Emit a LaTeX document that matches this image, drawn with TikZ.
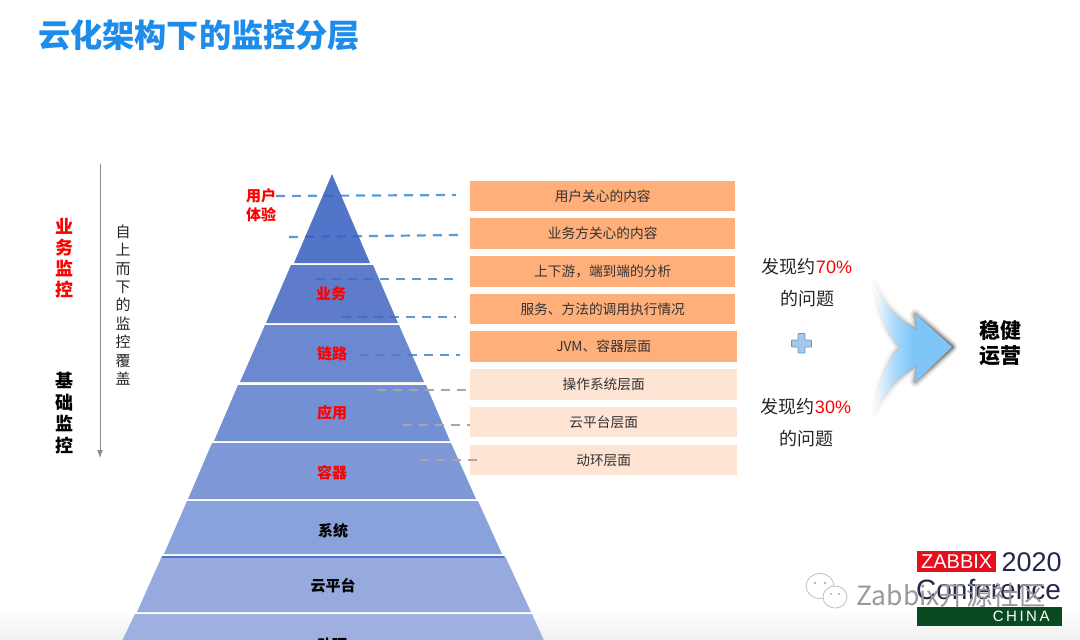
\documentclass[tikz,border=0pt]{standalone}
\usepackage{fontspec}
\setmainfont{Noto Sans CJK SC}
\newfontfamily\latinf{Liberation Sans}
\usetikzlibrary{fadings,shadings,arrows.meta}
\definecolor{titleblue}{HTML}{1E8CEB}
\definecolor{dashblue}{HTML}{5B9BD5}
\definecolor{dashgray}{HTML}{A6A6A6}
\definecolor{boxdark}{HTML}{FFAF7A}
\definecolor{boxlight}{HTML}{FDE4D3}
\definecolor{redlab}{HTML}{FF0000}
\definecolor{logored}{HTML}{E60F1E}
\definecolor{logogreen}{HTML}{0A4A22}
\definecolor{logonavy}{HTML}{23284F}
\definecolor{arrowblue}{HTML}{7EC6F8}
\tikzfading[name=swoosh,left color=transparent!100,middle color=transparent!70,right color=transparent!0]
\pgfdeclarehorizontalshading{swooshsh}{100bp}{color(0bp)=(white); color(25bp)=(white); color(32bp)=(arrowblue!35!white); color(40bp)=(arrowblue!72!white); color(50bp)=(arrowblue); color(100bp)=(arrowblue)}
\tikzset{
  x=1pt,y=-1pt,
  layer/.style={fill opacity=.85},
  boxd/.style={fill=boxdark,draw=none,minimum width=265pt,minimum height=30.5pt,inner sep=0pt,text=black!80,font=\fontsize{13.7}{16}\selectfont},
  boxl/.style={boxd,fill=boxlight,minimum width=267pt},
  blued/.style={draw=dashblue,line width=2.2pt,dash pattern=on 9pt off 7pt},
  grayd/.style={draw=dashgray,line width=2.2pt,dash pattern=on 9pt off 7pt},
  pyrlab/.style={inner sep=0pt,font=\fontsize{15}{18}\selectfont\bfseries},
  side/.style={inner sep=0pt,align=center,text=black!85,font=\fontsize{18}{32}\selectfont},
}
\begin{document}
\begin{tikzpicture}
\useasboundingbox (0,0) rectangle (1080,640);
\begin{scope}
\clip (0,0) rectangle (1080,640);
\fill[white] (0,0) rectangle (1080,640);
\shade[top color=white,bottom color=black!6] (0,610) rectangle (1080,640);

\node[anchor=west,inner sep=0pt,text=titleblue,font=\fontsize{32.2}{36}\selectfont\bfseries] (title) at (38,35) {云化架构下的监控分层};

% side column
\coordinate (arrTop) at (100,164);
\coordinate (arrEnd) at (100,458);
\draw[draw=black!45,line width=1pt,-{Latex[length=8pt,width=6pt]}] (arrTop) -- (arrEnd);
\node[inner sep=0pt,align=center,text=redlab,font=\fontsize{18}{21}\selectfont\bfseries] (biz) at (64,258) {业\\务\\监\\控};
\node[inner sep=0pt,align=center,text=black,font=\fontsize{18}{21.5}\selectfont\bfseries] (base) at (64,413) {基\\础\\监\\控};
\node[inner sep=0pt,align=center,text=black!85,font=\fontsize{15}{18.4}\selectfont] (topdown) at (123,305) {自\\上\\而\\下\\的\\监\\控\\覆\\盖};

% dashed leaders, under the translucent pyramid
\coordinate (a1) at (276,196); \coordinate (b1) at (456,195);
\coordinate (a2) at (289,237); \coordinate (b2) at (458,235);
\coordinate (a3) at (316,279); \coordinate (b3) at (455,279);
\coordinate (a4) at (342,317); \coordinate (b4) at (456,317);
\coordinate (a5) at (360,355); \coordinate (b5) at (460,355);
\coordinate (a6) at (377,390); \coordinate (b6) at (466,390);
\coordinate (a7) at (403,425); \coordinate (b7) at (470,425);
\coordinate (a8) at (420,460); \coordinate (b8) at (478,460);
\draw[blued] (a1) -- (b1);
\draw[blued] (a2) -- (b2);
\draw[blued] (a3) -- (b3);
\draw[blued] (a4) -- (b4);
\draw[blued] (a5) -- (b5);

% pyramid
\definecolor{p1}{RGB}{52,93,192}
\definecolor{p2}{RGB}{67,102,194}
\definecolor{p3}{RGB}{82,116,201}
\definecolor{p4}{RGB}{92,125,205}
\definecolor{p5}{RGB}{105,135,210}
\definecolor{p6}{RGB}{117,146,214}
\definecolor{p7}{RGB}{132,156,219}
\definecolor{p8}{RGB}{144,165,220}
\fill[layer,p1] (332,174) -- (370,263) -- (294,263) -- cycle;
\fill[layer,p2] (291,265) -- (373,265) -- (398,323) -- (266,323) -- cycle;
\fill[layer,p3] (265,325) -- (399,325) -- (424,382) -- (240,382) -- cycle;
\fill[layer,p4] (238,385) -- (426,385) -- (450,441) -- (214,441) -- cycle;
\fill[layer,p5] (212,443) -- (451,443) -- (476,499) -- (188,499) -- cycle;
\fill[layer,p6] (187,501) -- (478,501) -- (502,554) -- (164,554) -- cycle;
\fill[layer,p7] (162,556) -- (505,556) -- (531,612) -- (137,612) -- cycle;
\fill[layer,p8] (135,614) -- (532,614) -- (546,645) -- (120,645) -- cycle;
\fill[p3] (162,556) rectangle (504,558);

% boxes
\node[boxd,anchor=west] (r1) at (470,196) {用户关心的内容};
\node[boxd,anchor=west] (r2) at (470,233.5) {业务方关心的内容};
\node[boxd,anchor=west] (r3) at (470,271.5) {上下游，端到端的分析};
\node[boxd,anchor=west] (r4) at (470,309) {服务、方法的调用执行情况};
\node[boxd,anchor=west,minimum width=267pt] (r5) at (470,346.5) {JVM、容器层面};
\node[boxl,anchor=west] (r6) at (470,384.5) {操作系统层面};
\node[boxl,anchor=west] (r7) at (470,422) {云平台层面};
\node[boxl,anchor=west] (r8) at (470,460) {动环层面};

\draw[grayd] (a6) -- (b6);
\draw[grayd] (a7) -- (b7);
\draw[grayd] (a8) -- (b8);

% pyramid labels
\node[pyrlab,text=redlab,align=center,font=\fontsize{15}{19}\selectfont\bfseries] (l0) at (261,205.5) {用户\\体验};
\node[pyrlab,text=redlab] (l1) at (331,294) {业务};
\node[pyrlab,text=redlab] (l2) at (332,354) {链路};
\node[pyrlab,text=redlab] (l3) at (332,413) {应用};
\node[pyrlab,text=redlab] (l4) at (332,473) {容器};
\node[pyrlab] (l5) at (333,531) {系统};
\node[pyrlab] (l6) at (333,586) {云平台};
\node[pyrlab] (l7) at (332,645) {动环};

% right hand text
\node[side] (f1) at (807,283) {发现约\textcolor{redlab}{\latinf 70\%}\\的问题};
\node[side] (f2) at (806,422.5) {发现约\textcolor{redlab}{\latinf 30\%}\\的问题};
\node[inner sep=0pt,align=center,font=\fontsize{21}{25}\selectfont\bfseries] (ops) at (1000,343) {稳健\\运营};

% plus sign
\draw[draw=dashblue,fill=dashblue!55!white,line width=.7pt,rounded corners=.5pt]
  (798,333.5) -- (805,333.5) -- (805,340) -- (811.5,340) -- (811.5,347) -- (805,347)
  -- (805,353) -- (798,353) -- (798,347) -- (791.5,347) -- (791.5,340) -- (798,340) -- cycle;

% merge arrow
\def\mergepath{(873,283) .. controls (884,305) and (898,322) .. (917,330) -- (915,314) -- (952,347) -- (915,382) -- (917,365) .. controls (898,375) and (884,392) .. (873,414) .. controls (878,385) and (888,360) .. (900,347) .. controls (888,334) and (878,312) .. (873,283) -- cycle}
\foreach \w/\o in {11/.09,8/.11,6/.14,4/.18,2/.22}{
  \draw[black,line width=\w pt,opacity=\o,path fading=swoosh,line join=round] \mergepath;
}
\shade[shading=swooshsh] \mergepath;

% logo
\node[fill=logored,text=white,inner sep=0pt,minimum width=79pt,minimum height=21pt,anchor=north west,font=\latinf\fontsize{20}{22}\selectfont] (zb) at (917,551) {ZABBIX};
\node[anchor=west,inner sep=0pt,text=logonavy,font=\latinf\fontsize{27}{29}\selectfont] (yr) at (1001.5,562) {2020};
\node[anchor=west,inner sep=0pt,text=logonavy,font=\latinf\fontsize{28}{30}\selectfont] (conf) at (916,590) {Conference};
\node[fill=logogreen,text=white,inner sep=0pt,minimum width=145pt,minimum height=19pt,anchor=north west,font=\latinf\fontsize{15}{17}\selectfont] (cn) at (917,607) {\hspace{63pt}C\,H\,I\,N\,A};

% watermark
\draw[draw=black!25,fill=white,line width=.8pt] (820,586) ellipse (14 and 12.5);
\draw[draw=black!25,fill=white,line width=.8pt] (835,597) ellipse (12 and 11);
\fill[black!30] (815,583) circle (1.3) (825,583) circle (1.3) (831,594) circle (1.2) (839,594) circle (1.2);
\node[anchor=west,inner sep=0pt,text=black!40,font=\fontsize{26.5}{28}\selectfont] (wm) at (856,595) {Zabbix开源社区};
\end{scope}
\end{tikzpicture}
\end{document}
